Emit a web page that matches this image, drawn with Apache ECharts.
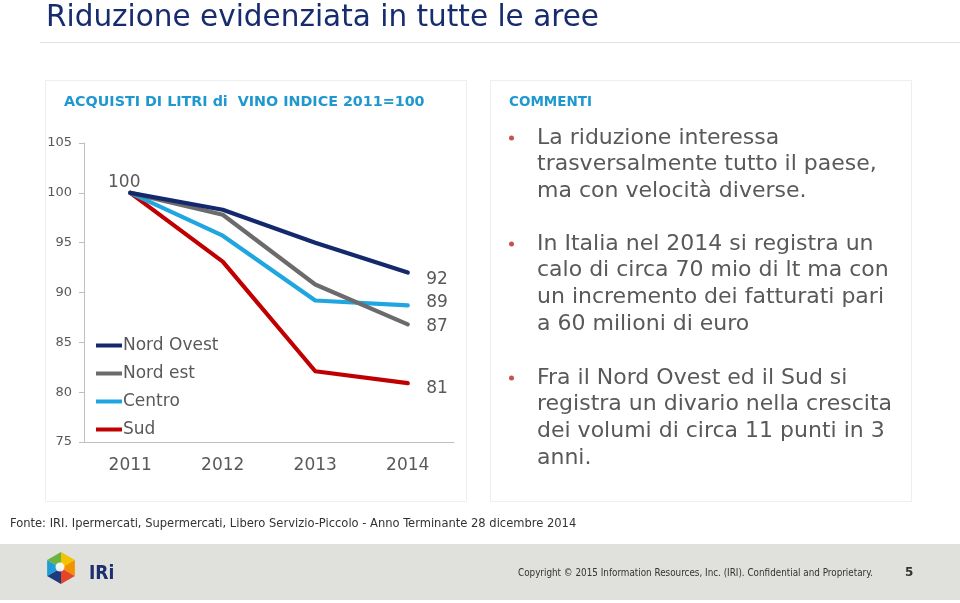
<!DOCTYPE html>
<html>
<head>
<meta charset="utf-8">
<script src="https://cdn.jsdelivr.net/npm/echarts@6/dist/echarts.min.js"></script>
<style>
html,body{margin:0;padding:0;background:#fff;}
#main{width:960px;height:603px;}
</style>
</head>
<body>
<div id="main"></div>
<script>
// ---- data ----
const years = ['2011', '2012', '2013', '2014'];
const seriesNames = ['Nord Ovest', 'Nord est', 'Centro', 'Sud'];
const nordOvest = [100, 98.3, 95.0, 92.0];
const nordEst = [100, 97.8, 90.8, 86.8];
const centro = [100, 95.7, 89.2, 88.7];
const sud = [100, 93.1, 82.1, 80.9];
const yMin = 75, yMax = 105, yStep = 5;

const pageTitle = 'Riduzione evidenziata in tutte le aree';
const chartTitle = 'ACQUISTI DI LITRI di  VINO INDICE 2011=100';
const commentTitle = 'COMMENTI';
const bullets = [
  ['La riduzione interessa', 'trasversalmente tutto il paese,', 'ma con velocità diverse.'],
  ['In Italia nel 2014 si registra un', 'calo di circa 70 mio di lt ma con', 'un incremento dei fatturati pari', 'a 60 milioni di euro'],
  ['Fra il Nord Ovest ed il Sud si', 'registra un divario nella crescita', 'dei volumi di circa 11 punti in 3', 'anni.']
];
const sourceText = 'Fonte: IRI. Ipermercati, Supermercati, Libero Servizio-Piccolo - Anno Terminante 28 dicembre 2014';
const copyrightText = 'Copyright \u00A9 2015 Information Resources, Inc. (IRI). Confidential and Proprietary.';
const pageNumber = '5';

// ---- styles ----
const colors = ['#13296b', '#6b6b6b', '#1fa6e0', '#c00000'];
const txtGrey = '#595959';
const font = '"DejaVu Sans", Verdana, sans-serif';
const condFont = '"DejaVu Sans Condensed", Tahoma, sans-serif';

const chart = echarts.init(document.getElementById('main'), null, {renderer: 'canvas'});

const endOffsets = [[13, 7], [13, 2], [13, -3], [13, 5]];
const allData = [nordOvest, nordEst, centro, sud];

const series = allData.map((arr, si) => ({
  name: seriesNames[si],
  type: 'line',
  symbol: 'circle',
  symbolSize: 1,
  showSymbol: true,
  z: 10 - si,
  lineStyle: {width: 4.2, color: colors[si], cap: 'round', join: 'round'},
  itemStyle: {color: colors[si]},
  label: {show: false},
  data: arr.map((v, i) => {
    const d = {value: v};
    if (i === arr.length - 1) {
      d.label = {show: true, position: 'right', distance: 5, offset: endOffsets[si],
        formatter: p => String(Math.round(p.value)), color: txtGrey, fontSize: 17, fontFamily: font};
    }
    if (si === 0 && i === 0) {
      d.label = {show: true, position: 'top', distance: 5, offset: [-6, 4],
        formatter: p => String(Math.round(p.value)), color: txtGrey, fontSize: 17, fontFamily: font};
    }
    return d;
  })
}));

// graphics
const graphics = [];
graphics.push({type: 'rect', z: -10, shape: {x: 45.5, y: 80.5, width: 421, height: 421},
  style: {fill: '#fff', stroke: '#eeeeee', lineWidth: 1}});
graphics.push({type: 'rect', z: -10, shape: {x: 490.5, y: 80.5, width: 421, height: 421},
  style: {fill: '#fff', stroke: '#eeeeee', lineWidth: 1}});
graphics.push({type: 'text', x: 46, y: 18, style: {text: pageTitle, fill: '#172c6e',
  font: '29.5px ' + font, verticalAlign: 'middle', textVerticalAlign: 'middle'}});
graphics.push({type: 'line', shape: {x1: 40, y1: 42.5, x2: 960, y2: 42.5}, style: {stroke: '#e2e2e2', lineWidth: 1}});
graphics.push({type: 'text', x: 64, y: 102, style: {text: chartTitle, fill: '#1e98cf',
  font: 'bold 14.3px ' + font, verticalAlign: 'middle', textVerticalAlign: 'middle'}});
graphics.push({type: 'text', x: 509, y: 102, style: {text: commentTitle, fill: '#1e98cf',
  font: 'bold 13.5px ' + font, verticalAlign: 'middle', textVerticalAlign: 'middle'}});
const bulletStarts = [138, 244, 378];
const lineH = 26.7;
bullets.forEach((lines, bi) => {
  const y0 = bulletStarts[bi];
  graphics.push({type: 'circle', shape: {cx: 511.5, cy: y0, r: 2.5}, style: {fill: '#c9514a'}});
  lines.forEach((ln, li) => {
    graphics.push({type: 'text', x: 537, y: y0 + li * lineH, style: {text: ln, fill: txtGrey,
      font: '22px ' + font, verticalAlign: 'middle', textVerticalAlign: 'middle'}});
  });
});
graphics.push({type: 'text', x: 10, y: 524, style: {text: sourceText, fill: '#333333',
  font: '12.8px ' + condFont, verticalAlign: 'middle', textVerticalAlign: 'middle'}});
graphics.push({type: 'rect', z: -10, shape: {x: 0, y: 544, width: 960, height: 56}, style: {fill: '#e0e0dc'}});
graphics.push({type: 'text', x: 518, y: 573, style: {text: copyrightText, fill: '#333333',
  font: '9.8px ' + condFont, verticalAlign: 'middle', textVerticalAlign: 'middle'}});
graphics.push({type: 'text', x: 905, y: 573, style: {text: pageNumber, fill: '#333333',
  font: 'bold 12px ' + font, verticalAlign: 'middle', textVerticalAlign: 'middle'}});
(function () {
  const cx = 61, cy = 568, r = 16;
  const segCols = ['#f2c300', '#f39200', '#e2452a', '#1c3a7c', '#1f9bd7', '#6cb33f'];
  for (let k = 0; k < 6; k++) {
    const a1 = (-90 + 60 * k) * Math.PI / 180;
    const a2 = (-30 + 60 * k) * Math.PI / 180;
    graphics.push({type: 'polygon', shape: {points: [[cx, cy],
      [cx + r * Math.cos(a1), cy + r * Math.sin(a1)], [cx + r * Math.cos(a2), cy + r * Math.sin(a2)]]},
      style: {fill: segCols[k]}});
  }
  graphics.push({type: 'circle', shape: {cx: cx - 1, cy: cy - 1, r: 4.5}, style: {fill: '#ffffff', opacity: 0.9}});
  graphics.push({type: 'text', x: 89, y: 574, style: {text: 'IRi', fill: '#1c2f6e',
    font: 'bold 19px ' + condFont, verticalAlign: 'middle', textVerticalAlign: 'middle'}});
})();

const option = {
  animation: false,
  backgroundColor: '#ffffff',
  textStyle: {fontFamily: font},
  grid: {left: 84, top: 143, width: 370, height: 299, containLabel: false},
  legend: {
    data: seriesNames,
    orient: 'vertical',
    left: 91,
    top: 332,
    itemWidth: 26,
    itemHeight: 4,
    itemGap: 11,
    icon: 'rect',
    textStyle: {color: txtGrey, fontSize: 17, fontFamily: font, padding: [0, 0, 0, -4]},
    selectedMode: false
  },
  xAxis: {
    type: 'category',
    data: years,
    boundaryGap: true,
    axisLine: {show: true, lineStyle: {color: '#bfbfbf', width: 1}},
    axisTick: {show: false},
    axisLabel: {color: txtGrey, fontSize: 17, fontFamily: font, margin: 15},
    splitLine: {show: false}
  },
  yAxis: {
    type: 'value',
    min: yMin, max: yMax, interval: yStep,
    axisLine: {show: true, lineStyle: {color: '#bfbfbf', width: 1}},
    axisTick: {show: true, length: 5, lineStyle: {color: '#bfbfbf'}},
    axisLabel: {color: txtGrey, fontSize: 13, fontFamily: font, margin: 12},
    splitLine: {show: false}
  },
  series: series,
  graphic: {elements: graphics}
};
chart.setOption(option);
</script>
</body>
</html>
